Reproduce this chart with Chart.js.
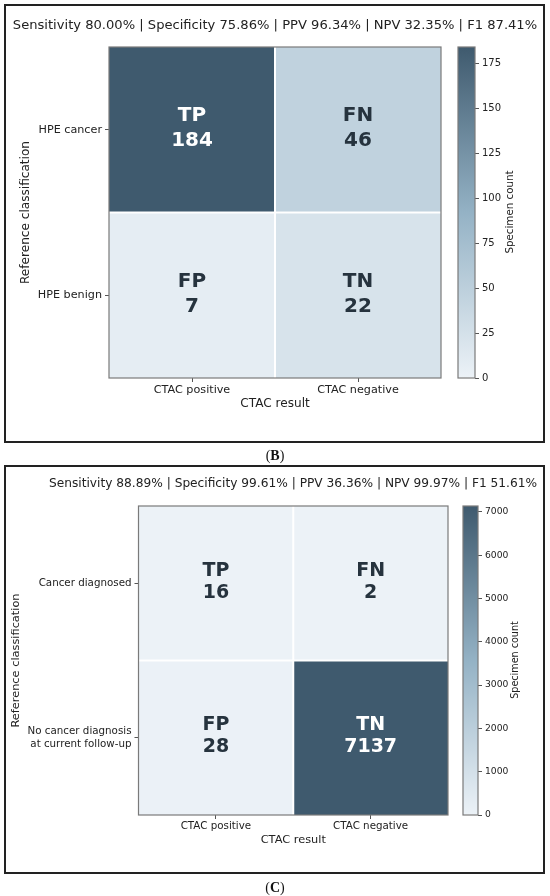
<!DOCTYPE html>
<html lang="en">
<head>
<meta charset="UTF-8">
<meta name="viewport" content="width=device-width, initial-scale=1.0">
<title>CTAC confusion matrices</title>
<script src="https://cdn.jsdelivr.net/npm/chart.js@4.4.1/dist/chart.umd.min.js"></script>
<style>
    body {
        margin: 0;
        background: #ffffff;
        font-family: "DejaVu Sans", sans-serif;
        color: #222222;
    }
    #page {
        position: relative;
        width: 550px;
        height: 896px;
        overflow: hidden;
    }
    .panel {
        position: absolute;
        left: 4px;
        width: 541px;
        box-sizing: border-box;
        border: 2px solid #222222;
    }
    .box {
        position: absolute;
    }
    .label {
        position: absolute;
        white-space: nowrap;
        line-height: 1;
        transform: translate(-50%, -50%);
    }
    .vlabel {
        transform: translate(-50%, -50%) rotate(-90deg);
    }
    .caption {
        font-family: "Liberation Serif", serif;
        font-size: 14px;
        color: #111111;
    }
</style>
</head>
<body>
<div id="page">
    <div class="panel" style="top:4px; height:439px;"></div>
    <div class="panel" style="top:465px; height:409px;"></div>

    <div class="box" style="left:0; top:0; width:550px; height:460px;"><canvas id="heatB"></canvas></div>
    <div class="box" style="left:440px; top:0; width:110px; height:460px;"><canvas id="cbarB"></canvas></div>
    <div class="box" style="left:0; top:463px; width:550px; height:411px;"><canvas id="heatC"></canvas></div>
    <div class="box" style="left:440px; top:463px; width:110px; height:411px;"><canvas id="cbarC"></canvas></div>

    <div class="label" id="titleB" style="left:275px; top:25px; font-size:13.1px;"></div>
    <div class="label" id="titleC" style="left:293px; top:483px; font-size:12.2px;"></div>
    <div class="label vlabel" style="left:509px; top:212px; font-size:10.3px;">Specimen count</div>
    <div class="label vlabel" style="left:515px; top:660px; font-size:9.6px;">Specimen count</div>
    <div class="label caption" style="left:275px; top:456px;">(<b>B</b>)</div>
    <div class="label caption" style="left:275px; top:888px;">(<b>C</b>)</div>
</div>

<script>
    // shared categories
    const xLabels = ['CTAC positive', 'CTAC negative'];
    const cellCodes = [['TP', 'FN'], ['FP', 'TN']];
    const metricNames = ['Sensitivity', 'Specificity', 'PPV', 'NPV', 'F1'];

    // panel B
    const rowLabelsB = ['HPE cancer', 'HPE benign'];
    const countsB = [[184, 46], [7, 22]];
    const metricsB = [80.00, 75.86, 96.34, 32.35, 87.41];
    const cbarTicksB = [0, 25, 50, 75, 100, 125, 150, 175];

    // panel C
    const rowLabelsC = ['Cancer diagnosed', ['No cancer diagnosis', 'at current follow-up']];
    const countsC = [[16, 2], [28, 7137]];
    const metricsC = [88.89, 99.61, 36.36, 99.97, 51.61];
    const cbarTicksC = [0, 1000, 2000, 3000, 4000, 5000, 6000, 7000];

    // light -> slate blue colormap
    const cmapStops = [[0, [236, 242, 247]], [0.5, [148, 178, 197]], [1, [63, 90, 110]]];

    Chart.defaults.font.family = '"DejaVu Sans", sans-serif';
    Chart.defaults.color = '#222222';

    function cmap(t) {
        t = Math.max(0, Math.min(1, t));
        for (let i = 1; i < cmapStops.length; i++) {
            const [t0, c0] = cmapStops[i - 1];
            const [t1, c1] = cmapStops[i];
            if (t <= t1) {
                const f = (t - t0) / (t1 - t0);
                const c = c0.map((v, k) => Math.round(v + (c1[k] - v) * f));
                return 'rgb(' + c.join(',') + ')';
            }
        }
        return 'rgb(' + cmapStops[cmapStops.length - 1][1].join(',') + ')';
    }

    function metricTitle(values) {
        return metricNames.map((n, i) => n + ' ' + values[i].toFixed(2) + '%').join(' | ');
    }

    document.getElementById('titleB').textContent = metricTitle(metricsB);
    document.getElementById('titleC').textContent = metricTitle(metricsC);

    // grey spine around the plot area
    const frame = {
        id: 'frame',
        afterDraw(chart) {
            const a = chart.chartArea;
            const ctx = chart.ctx;
            ctx.save();
            ctx.strokeStyle = '#7a7a7a';
            ctx.lineWidth = 1.2;
            ctx.strokeRect(a.left, a.top, a.right - a.left, a.bottom - a.top);
            ctx.restore();
        }
    };

    // "TP / 184" style annotations in each cell
    const cellText = {
        id: 'cellText',
        afterDatasetsDraw(chart, args, opts) {
            const ctx = chart.ctx;
            chart.data.datasets.forEach((ds, i) => {
                chart.getDatasetMeta(i).data.forEach((bar, j) => {
                    const p = bar.getCenterPoint();
                    const v = ds.counts[j];
                    ctx.save();
                    ctx.fillStyle = v / opts.vmax > 0.5 ? '#ffffff' : '#26333e';
                    ctx.font = 'bold ' + opts.size + 'px "DejaVu Sans"';
                    ctx.textAlign = 'center';
                    ctx.textBaseline = 'middle';
                    ctx.fillText(ds.codes[j], p.x, p.y + opts.shift - opts.gap);
                    ctx.fillText(String(v), p.x, p.y + opts.shift + opts.gap);
                    ctx.restore();
                });
            });
        }
    };

    function tickGrid() {
        return {
            display: true,
            offset: false,
            drawOnChartArea: false,
            drawTicks: true,
            tickLength: 4,
            color: '#555555',
            lineWidth: 1
        };
    }

    function makeHeatmap(id, rows, counts, L) {
        const vmax = Math.max(...counts.flat());
        // stacked bars, first dataset sits at the bottom
        const datasets = [1, 0].map(r => ({
            label: [].concat(rows[r]).join(' '),
            data: counts[r].map(() => 1),
            counts: counts[r],
            codes: cellCodes[r],
            backgroundColor: counts[r].map(v => cmap(v / vmax)),
            borderColor: '#ffffff',
            borderWidth: c => ({
                top: r === 1 ? 1 : 0,
                bottom: r === 0 ? 1 : 0,
                left: c.dataIndex === 1 ? 1 : 0,
                right: c.dataIndex === 0 ? 1 : 0
            }),
            borderSkipped: false,
            inflateAmount: 0,
            barPercentage: 1,
            categoryPercentage: 1
        }));

        return new Chart(document.getElementById(id), {
            type: 'bar',
            data: { labels: xLabels, datasets: datasets },
            options: {
                responsive: true,
                maintainAspectRatio: false,
                animation: false,
                events: [],
                layout: { padding: L.pad },
                plugins: {
                    legend: { display: false },
                    tooltip: { enabled: false },
                    cellText: { vmax: vmax, size: L.cell, gap: L.gap, shift: L.shift }
                },
                scales: {
                    x: {
                        type: 'category',
                        stacked: true,
                        offset: true,
                        grid: tickGrid(),
                        border: { display: false },
                        ticks: { color: '#222222', font: { size: L.tick }, padding: 1, maxRotation: 0, autoSkip: false },
                        title: { display: true, text: 'CTAC result', color: '#222222', font: { size: L.axis }, padding: 0 },
                        afterFit: s => { s.height = L.xH; }
                    },
                    y: {
                        type: 'linear',
                        stacked: true,
                        min: 0,
                        max: 2,
                        afterBuildTicks: s => { s.ticks = [{ value: 0.5 }, { value: 1.5 }]; },
                        grid: tickGrid(),
                        border: { display: false },
                        ticks: {
                            color: '#222222',
                            font: { size: L.tick },
                            padding: 3,
                            callback: v => (v > 1 ? rows[0] : rows[1])
                        },
                        title: { display: true, text: 'Reference classification', color: '#222222', font: { size: L.axis }, padding: { top: 4, bottom: 4 } },
                        afterFit: s => { s.width = L.yW; }
                    }
                }
            },
            plugins: [cellText, frame]
        });
    }

    function makeColorbar(id, counts, tickList, L) {
        const vmax = Math.max(...counts.flat());
        return new Chart(document.getElementById(id), {
            type: 'bar',
            data: {
                labels: ['Specimen count'],
                datasets: [{
                    data: [vmax],
                    backgroundColor: c => {
                        const a = c.chart.chartArea;
                        if (!a) return cmap(1);
                        const g = c.chart.ctx.createLinearGradient(0, a.bottom, 0, a.top);
                        cmapStops.forEach(([t, rgb]) => g.addColorStop(t, 'rgb(' + rgb.join(',') + ')'));
                        return g;
                    },
                    borderWidth: 0,
                    inflateAmount: 0,
                    barPercentage: 1,
                    categoryPercentage: 1
                }]
            },
            options: {
                responsive: true,
                maintainAspectRatio: false,
                animation: false,
                events: [],
                layout: { padding: L.pad },
                plugins: { legend: { display: false }, tooltip: { enabled: false } },
                scales: {
                    x: { display: false },
                    y: {
                        position: 'right',
                        min: 0,
                        max: vmax,
                        afterBuildTicks: s => { s.ticks = tickList.map(v => ({ value: v })); },
                        grid: tickGrid(),
                        border: { display: false },
                        ticks: { color: '#222222', font: { size: L.tick }, padding: 3, callback: v => String(v) },
                        afterFit: s => { s.width = L.yW; }
                    }
                }
            },
            plugins: [frame]
        });
    }

    makeHeatmap('heatB', rowLabelsB, countsB, {
        pad: { left: 15, top: 47, right: 109, bottom: 49 },
        yW: 94, xH: 33, tick: 11.2, axis: 12.1, cell: 20, gap: 12.5, shift: -1
    });
    makeColorbar('cbarB', countsB, cbarTicksB, {
        pad: { left: 18, top: 47, right: 0, bottom: 82 },
        yW: 75, tick: 10
    });

    makeHeatmap('heatC', rowLabelsC, countsC, {
        pad: { left: 5, top: 43, right: 102, bottom: 27 },
        yW: 133.5, xH: 32, tick: 10.3, axis: 11.35, cell: 19, gap: 11, shift: -1.5
    });
    makeColorbar('cbarC', countsC, cbarTicksC, {
        pad: { left: 23, top: 43, right: 0, bottom: 59 },
        yW: 72, tick: 9.2
    });
</script>
</body>
</html>
